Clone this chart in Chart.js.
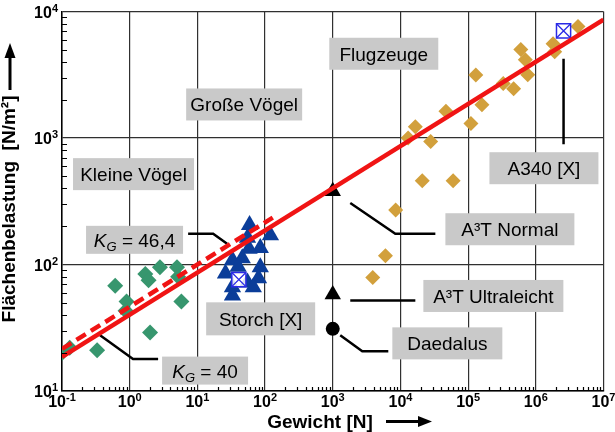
<!DOCTYPE html>
<html>
<head>
<meta charset="utf-8">
<script src="https://cdn.jsdelivr.net/npm/chart.js@4.4.1/dist/chart.umd.min.js"></script>
<style>
  html, body { margin: 0; padding: 0; background: #fff; }
</style>
</head>
<body>
<canvas id="chart" width="615" height="432"></canvas>
<script>
// Gewicht [N] and Flächenbelastung [N/m²]
const smallBirdsW = [0.1, 0.13, 0.33, 0.61, 0.9, 0.87, 1.7, 1.9, 2.8, 2.0, 5.0, 5.2, 5.8];
const smallBirdsL = [20, 22, 21, 68, 51, 43, 84, 75, 95, 29, 95, 80, 51];

const bigBirdsW = [59, 120, 55, 85, 58, 46, 33, 85, 26, 80, 55, 33, 67, 33, 40];
const bigBirdsL = [205, 170, 163, 135, 133, 112, 108, 95, 85, 78, 72, 66, 66, 57, 96];

const planesW = [4.2e6, 1.8e6, 1.9e6, 6.0e5, 7.0e5, 7.6e5, 4.7e5, 3.3e5, 1.3e5, 1.6e5,
                 1.1e5, 4.7e4, 1.66e4, 1.3e4, 2.8e4, 2.1e4, 6.0e4, 8.5e3, 6.0e3, 3.9e3];
const planesL = [7600, 5550, 4800, 5000, 4150, 3160, 2450, 2700, 3150, 1830,
                 1300, 1630, 1230, 1000, 940, 460, 460, 270, 117, 79];

// A3T Normal, A3T Ultraleicht, Daedalus
const a3tW = [1000, 1000];
const a3tL = [380, 58];
const daedalusW = [1000];
const daedalusL = [31];

// Storch [X], A340 [X]
const refW = [41, 2.57e6];
const refL = [76, 7030];

// K_G lines (end points)
const kg40W = [0.1, 1e7];
const kg40L = [18.6, 8620];
const kg46W = [0.1, 130];
const kg46L = [21.5, 235];

const xDecades = [1e-1, 1e0, 1e1, 1e2, 1e3, 1e4, 1e5, 1e6, 1e7];
const xExponents = ['-1', '0', '1', '2', '3', '4', '5', '6', '7'];
const yDecades = [1e1, 1e2, 1e3, 1e4];
const yExponents = ['1', '2', '3', '4'];

const pts = (xs, ys) => xs.map((v, i) => ({ x: v, y: ys[i] }));

// gray label boxes: text, anchor in data units, box size in px
const boxes = [
  { text: 'Flugzeuge', x: 5675, y: 4634, w: 109, h: 32 },
  { text: 'Große Vögel', x: 49.1, y: 1841, w: 116, h: 32 },
  { text: 'Kleine Vögel', x: 1.14, y: 518, w: 121, h: 32 },
  { text: 'A340 [X]', x: 1.318e6, y: 577, w: 109, h: 32 },
  { text: 'A³T Normal', x: 4.14e5, y: 190, w: 129, h: 32 },
  { text: 'A³T Ultraleicht', x: 2.36e5, y: 56.4, w: 140, h: 32 },
  { text: 'Daedalus', x: 4.93e4, y: 23.8, w: 110, h: 32 },
  { text: 'Storch [X]', x: 86.1, y: 37.2, w: 109, h: 33 },
  { kg: '46,4', x: 1.18, y: 156.7, w: 97, h: 28 },
  { kg: '40', x: 13.0, y: 14.5, w: 86, h: 28 }
];

// leader lines from labels to points
const leaders = [
  [[7.3, 175], [17.1, 175], [27.5, 146]],
  [[0.365, 27.6], [1.12, 17.9], [2.63, 17.9]],
  [[2.57e6, 4230], [2.57e6, 891]],
  [[1815, 306], [8400, 175], [32800, 175]],
  [[1815, 52], [16600, 52]],
  [[1290, 27.6], [2730, 20.6], [6620, 20.6]]
];

const FONT = '"Liberation Sans", Arial, Helvetica, sans-serif';

function drawPow(ctx, exp, x, y, align) {
  ctx.font = 'bold 16px ' + FONT;
  const w1 = ctx.measureText('10').width;
  ctx.font = 'bold 11px ' + FONT;
  const w2 = ctx.measureText(exp).width;
  const x0 = align === 'center' ? x - (w1 + w2) / 2 : x - (w1 + w2);
  ctx.textAlign = 'left';
  ctx.textBaseline = 'alphabetic';
  ctx.font = 'bold 16px ' + FONT;
  ctx.fillText('10', x0, y);
  ctx.font = 'bold 11px ' + FONT;
  ctx.fillText(exp, x0 + w1, y - 6);
}

const decorations = {
  id: 'decorations',
  afterDatasetsDraw(chart) {
    const { ctx, scales: { x, y } } = chart;
    ctx.save();
    boxes.forEach(b => {
      const cx = x.getPixelForValue(b.x);
      const cy = y.getPixelForValue(b.y);
      ctx.fillStyle = '#c9c9c9';
      ctx.fillRect(cx - b.w / 2, cy - b.h / 2, b.w, b.h);
      ctx.fillStyle = '#000';
      if (b.text) {
        ctx.font = '19px ' + FONT;
        ctx.textAlign = 'center';
        ctx.textBaseline = 'alphabetic';
        ctx.fillText(b.text, cx, cy + 7);
      } else {
        const rest = ' = ' + b.kg;
        ctx.font = 'italic 19px ' + FONT;
        const wK = ctx.measureText('K').width;
        ctx.font = 'italic 13px ' + FONT;
        const wG = ctx.measureText('G').width;
        ctx.font = '19px ' + FONT;
        const wR = ctx.measureText(rest).width;
        let x0 = cx - (wK + wG + wR) / 2;
        ctx.textAlign = 'left';
        ctx.textBaseline = 'alphabetic';
        ctx.font = 'italic 19px ' + FONT;
        ctx.fillText('K', x0, cy + 7);
        ctx.font = 'italic 13px ' + FONT;
        ctx.fillText('G', x0 + wK, cy + 11);
        ctx.font = '19px ' + FONT;
        ctx.fillText(rest, x0 + wK + wG, cy + 7);
      }
    });
    ctx.restore();
  },
  afterDraw(chart) {
    const { ctx, chartArea: a, scales: { x, y } } = chart;
    ctx.save();
    // minor ticks, pointing inwards
    ctx.strokeStyle = '#000';
    ctx.lineWidth = 1.2;
    ctx.beginPath();
    for (let d = -1; d < 7; d++) {
      for (let k = 2; k < 10; k++) {
        const px = Math.round(x.getPixelForValue(k * Math.pow(10, d))) + 0.5;
        ctx.moveTo(px, a.bottom);
        ctx.lineTo(px, a.bottom - 4);
      }
    }
    for (let d = 1; d < 4; d++) {
      for (let k = 2; k < 10; k++) {
        const py = Math.round(y.getPixelForValue(k * Math.pow(10, d))) + 0.5;
        ctx.moveTo(a.left, py);
        ctx.lineTo(a.left + 5, py);
      }
    }
    ctx.stroke();

    // tick labels
    ctx.fillStyle = '#000';
    xDecades.forEach((v, i) => drawPow(ctx, xExponents[i], x.getPixelForValue(v), a.bottom + 16, 'center'));
    yDecades.forEach((v, i) => drawPow(ctx, yExponents[i], a.left - 4, y.getPixelForValue(v) + 6, 'right'));

    // axis titles with arrows
    ctx.font = 'bold 19px ' + FONT;
    ctx.textAlign = 'center';
    ctx.textBaseline = 'alphabetic';
    ctx.fillText('Gewicht [N]', 320, 428);
    ctx.fillRect(386, 420, 34, 3);
    ctx.beginPath();
    ctx.moveTo(432, 421.5);
    ctx.lineTo(418, 416);
    ctx.lineTo(418, 427);
    ctx.closePath();
    ctx.fill();

    ctx.save();
    ctx.translate(10, 209);
    ctx.rotate(-Math.PI / 2);
    ctx.textBaseline = 'middle';
    ctx.fillText('Flächenbelastung  [N/m²]', 0, 0);
    ctx.restore();
    ctx.fillRect(8.5, 56, 3, 34);
    ctx.beginPath();
    ctx.moveTo(10, 43);
    ctx.lineTo(4.5, 58);
    ctx.lineTo(15.5, 58);
    ctx.closePath();
    ctx.fill();
    ctx.restore();
  }
};

const datasets = [
  {
    label: 'K_G = 40', data: pts(kg40W, kg40L), showLine: true, pointRadius: 0,
    borderColor: 'rgb(240,20,20)', borderWidth: 4.5, order: 0
  },
  {
    label: 'K_G = 46,4', data: pts(kg46W, kg46L), showLine: true, pointRadius: 0,
    borderColor: 'rgb(240,20,20)', borderWidth: 4.5, borderDash: [11, 6], order: 0
  },
  {
    label: 'Kleine Vögel', data: pts(smallBirdsW, smallBirdsL), pointStyle: 'rectRot', pointRadius: 8,
    backgroundColor: '#37966e', borderColor: '#37966e', borderWidth: 0, order: 4
  },
  {
    label: 'Große Vögel', data: pts(bigBirdsW, bigBirdsL), pointStyle: 'triangle', pointRadius: 10,
    backgroundColor: '#0b3d99', borderColor: '#0b3d99', borderWidth: 0, order: 4
  },
  {
    label: 'Flugzeuge', data: pts(planesW, planesL), pointStyle: 'rectRot', pointRadius: 7.5,
    backgroundColor: '#d2a03c', borderColor: '#d2a03c', borderWidth: 0, order: 4
  },
  {
    label: 'A3T', data: pts(a3tW, a3tL), pointStyle: 'triangle', pointRadius: 9.5,
    backgroundColor: '#000', borderColor: '#000', borderWidth: 0, order: 2
  },
  {
    label: 'Daedalus', data: pts(daedalusW, daedalusL), pointStyle: 'circle', pointRadius: 7,
    backgroundColor: '#000', borderColor: '#000', borderWidth: 0, order: 2
  },
  {
    label: '[X] cross', data: pts(refW, refL), pointStyle: 'crossRot', pointRadius: 10,
    borderColor: '#2a2ae6', borderWidth: 1.3, order: 2
  },
  {
    label: '[X] box', data: pts(refW, refL), pointStyle: 'rect', pointRadius: 10,
    backgroundColor: 'rgba(255,255,255,0.85)', borderColor: '#2a2ae6', borderWidth: 1.5, order: 3
  }
];

leaders.forEach((l, i) => {
  datasets.push({
    label: 'leader ' + i, data: l.map(p => ({ x: p[0], y: p[1] })), showLine: true, pointRadius: 0,
    borderColor: '#000', borderWidth: 2.5, order: 1
  });
});

new Chart(document.getElementById('chart'), {
  type: 'scatter',
  data: { datasets: datasets },
  options: {
    responsive: false,
    animation: false,
    layout: { padding: { left: 62, right: 11, top: 9, bottom: 41 } },
    plugins: {
      legend: { display: false },
      tooltip: { enabled: false }
    },
    scales: {
      x: {
        type: 'logarithmic',
        min: 0.1,
        max: 1e7,
        afterBuildTicks: s => { s.ticks = xDecades.map(v => ({ value: v })); },
        ticks: { display: false },
        grid: { color: '#303030', lineWidth: 1.2, drawTicks: false },
        border: { display: true, color: '#000', width: 1.5 }
      },
      y: {
        type: 'logarithmic',
        min: 10,
        max: 1e4,
        afterBuildTicks: s => { s.ticks = yDecades.map(v => ({ value: v })); },
        ticks: { display: false },
        grid: { color: '#303030', lineWidth: 1.2, drawTicks: false },
        border: { display: true, color: '#000', width: 1.5 }
      }
    }
  },
  plugins: [decorations]
});
</script>
</body>
</html>
